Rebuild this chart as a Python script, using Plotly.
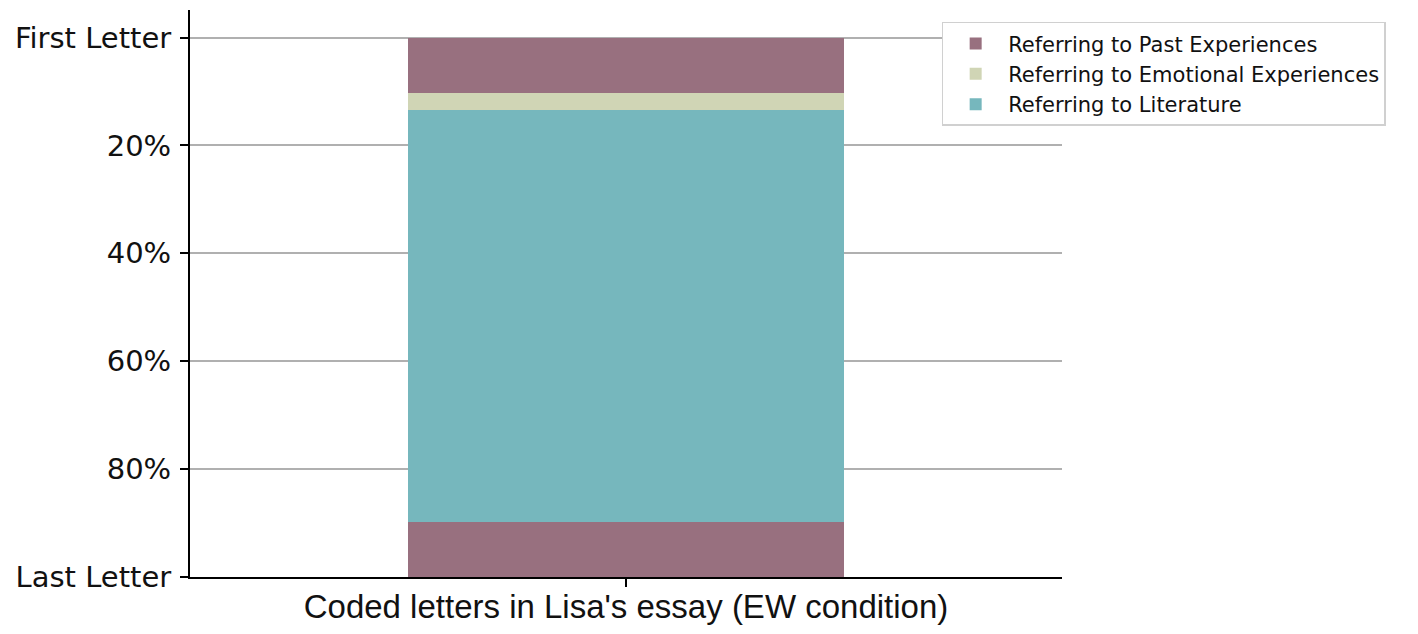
"""Stacked position chart of coded letters in Lisa's essay."""

import plotly.graph_objects as go

# ── Data ────────────────────────────────────────────────────────
category = [0]
x_label = "Coded letters in Lisa's essay (EW condition)"

segment_names = [
    "Referring to Past Experiences",
    "Referring to Emotional Experiences",
    "Referring to Literature",
    "Referring to Past Experiences",
]
segment_sizes = [10.3, 3.1, 76.4, 10.2]
segment_colors = ["#98707F", "#D0D5B5", "#76B7BD", "#98707F"]

tick_vals = [0, 20, 40, 60, 80, 100]
tick_text = ["First Letter", "20%", "40%", "60%", "80%", "Last Letter"]

# ── Figure ──────────────────────────────────────────────────────
fig = go.Figure()
seen = set()
for name, size, color in zip(segment_names, segment_sizes, segment_colors):
    fig.add_trace(go.Bar(
        x=category, y=[size], name=name, width=0.8,
        marker=dict(color=color, line=dict(width=0)),
        legendgroup=name, showlegend=name not in seen,
    ))
    seen.add(name)

fig.update_layout(
    barmode="stack",
    width=1418, height=634,
    margin=dict(l=182, r=364, t=2, b=65),
    plot_bgcolor="white", paper_bgcolor="white",
    font=dict(family="DejaVu Sans", color="#111111"),
    legend=dict(
        x=0.862, y=0.979, xanchor="left", yanchor="top",
        bgcolor="white", bordercolor="#d0d0d0", borderwidth=1.5,
        font=dict(size=21, family="DejaVu Sans"),
        itemwidth=55, traceorder="normal",
    ),
)
fig.update_xaxes(
    range=[-0.8, 0.8], tickvals=[0], ticktext=[""],
    showline=True, linecolor="black", linewidth=2,
    ticks="outside", ticklen=8, tickwidth=2, tickcolor="black",
    showgrid=False, zeroline=False, automargin=False,
    title=dict(text=x_label, standoff=6,
               font=dict(family="Liberation Sans, Arial", size=33)),
)
fig.update_yaxes(
    range=[100, -5.1], tickvals=tick_vals, ticktext=tick_text,
    showline=True, linecolor="black", linewidth=2,
    ticks="outside", ticklen=8, tickwidth=2, tickcolor="black",
    ticklabelstandoff=3, automargin=False,
    showgrid=True, gridcolor="#b0b0b0", gridwidth=1.5,
    zeroline=False,
    tickfont=dict(size=29, family="DejaVu Sans"),
)

fig.write_html("out.html")
